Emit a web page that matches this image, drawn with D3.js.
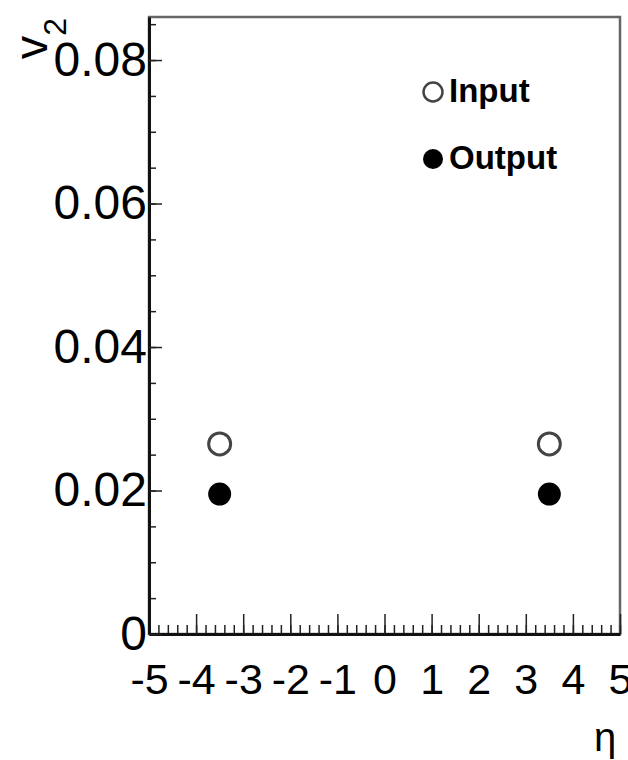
<!DOCTYPE html>
<html>
<head>
<meta charset="utf-8">
<script src="https://cdn.jsdelivr.net/npm/d3@7"></script>
<style>
  html, body { margin: 0; padding: 0; background: #fff; }
  svg { display: block; font-family: "Liberation Sans", Arial, Helvetica, sans-serif; }
</style>
</head>
<body>
<div id="chart"></div>
<script>
// data
const eta = [-3.5, 3.5];
const v2Input = [0.0265, 0.0265];
const v2Output = [0.0195, 0.0195];
const xTicks = [-5, -4, -3, -2, -1, 0, 1, 2, 3, 4, 5];
const yTicks = [0, 0.02, 0.04, 0.06, 0.08];
const seriesNames = ["Input", "Output"];

const width = 628, height = 760;
const padL = 149, padR = 620, padT = 17, padB = 634;

const svg = d3.select("#chart").append("svg").attr("width", width).attr("height", height);

const x = d3.scaleLinear().domain([-5, 5]).range([padL, padR]);
const y = d3.scaleLinear().domain([0, 0.086]).range([padB, padT]);

// frame (top / right)
svg.append("rect")
  .attr("x", padL).attr("y", padT)
  .attr("width", padR - padL).attr("height", padB - padT)
  .attr("fill", "none").attr("stroke", "#666").attr("stroke-width", 2.5);

// minor ticks first
const xMinor = d3.range(-5, 5.0001, 0.2);
svg.append("g")
  .attr("transform", `translate(0,${padB})`)
  .call(d3.axisBottom(x).tickValues(xMinor).tickSize(-9).tickFormat(""))
  .call(g => g.select(".domain").remove())
  .call(g => g.selectAll("line").attr("stroke", "#222").attr("stroke-width", 1.5));

const yMinor = d3.range(0, 0.0860001, 0.005);
svg.append("g")
  .attr("transform", `translate(${padL},0)`)
  .call(d3.axisLeft(y).tickValues(yMinor).tickSize(-7).tickFormat(""))
  .call(g => g.select(".domain").remove())
  .call(g => g.selectAll("line").attr("stroke", "#222").attr("stroke-width", 1.5));

// major x axis
svg.append("g")
  .attr("transform", `translate(0,${padB})`)
  .call(d3.axisBottom(x).tickValues(xTicks).tickSizeInner(-20).tickSizeOuter(0).tickPadding(29)
    .tickFormat(d => String(d)))
  .call(g => g.select(".domain").attr("stroke", "#111").attr("stroke-width", 3))
  .call(g => g.selectAll("line").attr("stroke", "#222").attr("stroke-width", 1.5))
  .call(g => g.selectAll("text").attr("font-size", 43).attr("fill", "#000")
    .attr("font-family", "Liberation Sans, Arial, sans-serif"));

// major y axis
svg.append("g")
  .attr("transform", `translate(${padL},0)`)
  .call(d3.axisLeft(y).tickValues(yTicks).tickSizeInner(-13).tickSizeOuter(0).tickPadding(2)
    .tickFormat(d => d === 0 ? "0" : d.toFixed(2)))
  .call(g => g.select(".domain").attr("stroke", "#111").attr("stroke-width", 3))
  .call(g => g.selectAll("line").attr("stroke", "#222").attr("stroke-width", 1.5))
  .call(g => g.selectAll("text").attr("font-size", 48).attr("fill", "#000")
    .attr("font-family", "Liberation Sans, Arial, sans-serif"));

// axis titles
svg.append("text")
  .attr("x", 605).attr("y", 751)
  .attr("text-anchor", "middle")
  .attr("font-size", 40)
  .text("η");

const yt = svg.append("text")
  .attr("transform", `translate(47,18) rotate(-90)`)
  .attr("text-anchor", "end");
yt.append("tspan").attr("font-size", 47).text("v");
yt.append("tspan").attr("font-size", 32).attr("dy", 19).text("2");

// markers
const pts = eta.map((e, i) => ({ eta: e, vin: v2Input[i], vout: v2Output[i] }));

svg.append("g").selectAll("circle")
  .data(pts).join("circle")
  .attr("cx", d => x(d.eta)).attr("cy", d => y(d.vin))
  .attr("r", 11)
  .attr("fill", "#fff").attr("stroke", "#444").attr("stroke-width", 3);

svg.append("g").selectAll("circle")
  .data(pts).join("circle")
  .attr("cx", d => x(d.eta)).attr("cy", d => y(d.vout))
  .attr("r", 11.5)
  .attr("fill", "#000");

// legend
const legend = svg.append("g");
const legendItems = seriesNames.map((name, i) => ({ name, filled: i === 1, ly: i === 0 ? 102 : 169 }));
legendItems.forEach(it => {
  legend.append("circle")
    .attr("cx", 433).attr("cy", it.ly - 10)
    .attr("r", it.filled ? 10 : 9.5)
    .attr("fill", it.filled ? "#000" : "#fff")
    .attr("stroke", it.filled ? "none" : "#444")
    .attr("stroke-width", 2.5);
  legend.append("text")
    .attr("x", 449).attr("y", it.ly)
    .attr("font-size", 33).attr("font-weight", "bold")
    .text(it.name);
});
</script>
</body>
</html>
